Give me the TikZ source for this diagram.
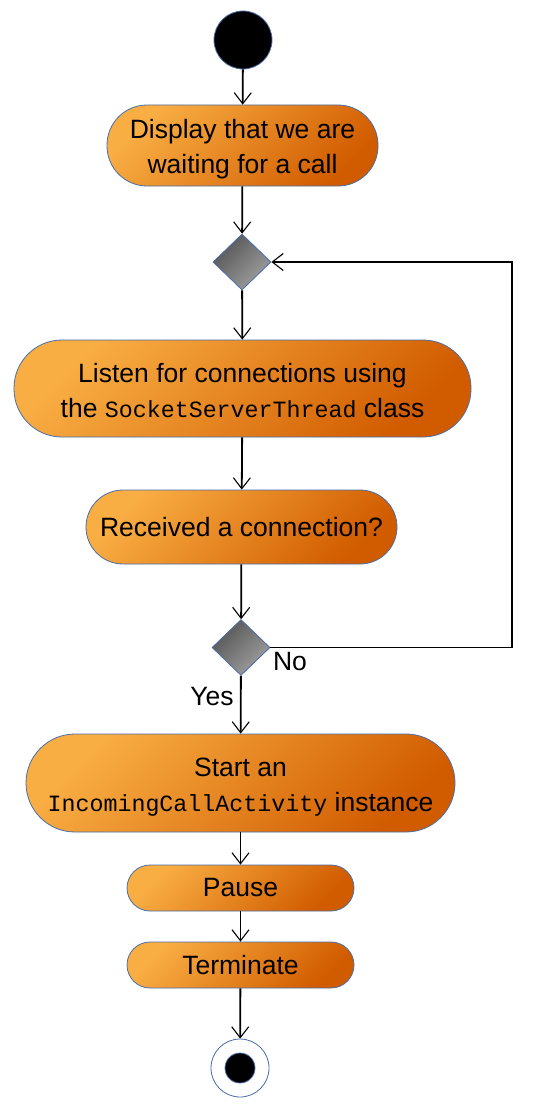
\documentclass[tikz,border=0pt]{standalone}
\usepackage{fontspec}
\setmainfont{Liberation Sans}
\setmonofont{Liberation Mono}
\usetikzlibrary{shapes.geometric,arrows.meta}
\definecolor{orL}{HTML}{F9AE44}
\definecolor{orD}{HTML}{D15C00}
\definecolor{grD}{HTML}{555555}
\definecolor{grL}{HTML}{A0A0A0}
\definecolor{edge}{HTML}{4A6EA8}
\tikzset{
  act/.style={draw=edge, line width=0.8pt, top color=orL, bottom color=orD, shading angle=45,
    align=center, inner sep=0pt, font=\fontsize{26.5}{35}\selectfont},
  acttext/.style={align=center, inner sep=0pt, font=\fontsize{26.5}{35}\selectfont},
  dec/.style={diamond, draw=edge, line width=0.8pt, top color=grD, bottom color=grL, shading angle=45,
    minimum width=58pt, minimum height=56pt, inner sep=0pt},
  arr/.style={line width=1.8pt, -{Straight Barb[length=11pt,width=17pt,line width=1.1pt]}},
  lbl/.style={font=\fontsize{26.5}{30}\selectfont, inner sep=0pt}
}
\newcommand{\mytt}[1]{{\ttfamily\fontsize{23.3}{35}\selectfont #1}}
\begin{document}
\begin{tikzpicture}[x=1pt,y=-1pt]
\useasboundingbox (0,0) rectangle (537,1113);
\node[circle, fill=black, draw=edge, line width=0.8pt, minimum size=58pt, inner sep=0pt] (start) at (243,40) {};
\node[act, minimum width=271pt, minimum height=81pt, rounded corners=40pt] (b1) at (242.5,145.5) {};
\node[acttext] (b1t) at ([yshift=-4pt]b1.center) {Display that we are\\waiting for a call};
\node[dec] (d1) at (242,262) {};
\node[act, minimum width=457pt, minimum height=97pt, rounded corners=48pt] (b2) at (242.5,388.5) {};
\node[acttext] (b2t) at ([yshift=-2pt]b2.center) {Listen for connections using\\the \mytt{SocketServerThread} class};
\node[act, minimum width=311pt, minimum height=74pt, rounded corners=37pt] (b3) at (241.5,527) {Received a connection?};
\node[dec] (d2) at (241,647.5) {};
\node[act, minimum width=429pt, minimum height=98pt, rounded corners=49pt] (b4) at (240.5,783) {};
\node[acttext] (b4t) at ([yshift=-4pt]b4.center) {Start an\\\mytt{IncomingCallActivity} instance};
\node[act, minimum width=227pt, minimum height=46pt, rounded corners=23pt] (b5) at (240.5,888) {Pause};
\node[act, minimum width=227pt, minimum height=46pt, rounded corners=23pt] (b6) at (240.5,965) {Terminate};
\node[circle, fill=white, draw=edge, line width=0.8pt, minimum size=58pt, inner sep=0pt] (end) at (240,1068) {};
\node[circle, fill=black, draw=edge, line width=0.8pt, minimum size=30pt, inner sep=0pt] (endin) at (240,1068) {};
\coordinate (loopx) at (512,0);
\draw[arr] (start) -- (b1);
\draw[arr] (b1) -- (d1);
\draw[arr] (d1) -- (b2);
\draw[arr] (b2) -- (b3);
\draw[arr] (b3) -- (d2);
\draw[arr] (d2) -- (b4);
\draw[arr] (b4) -- (b5);
\draw[arr] (b5) -- (b6);
\draw[arr] (b6) -- (end);
\draw[arr] (d2.east) -- (d2.east -| loopx) -- (d1.east -| loopx) -- (d1.east);
\node[lbl] (no) at (290,662) {No};
\node[lbl] (yes) at (212,697) {Yes};
\end{tikzpicture}
\end{document}
